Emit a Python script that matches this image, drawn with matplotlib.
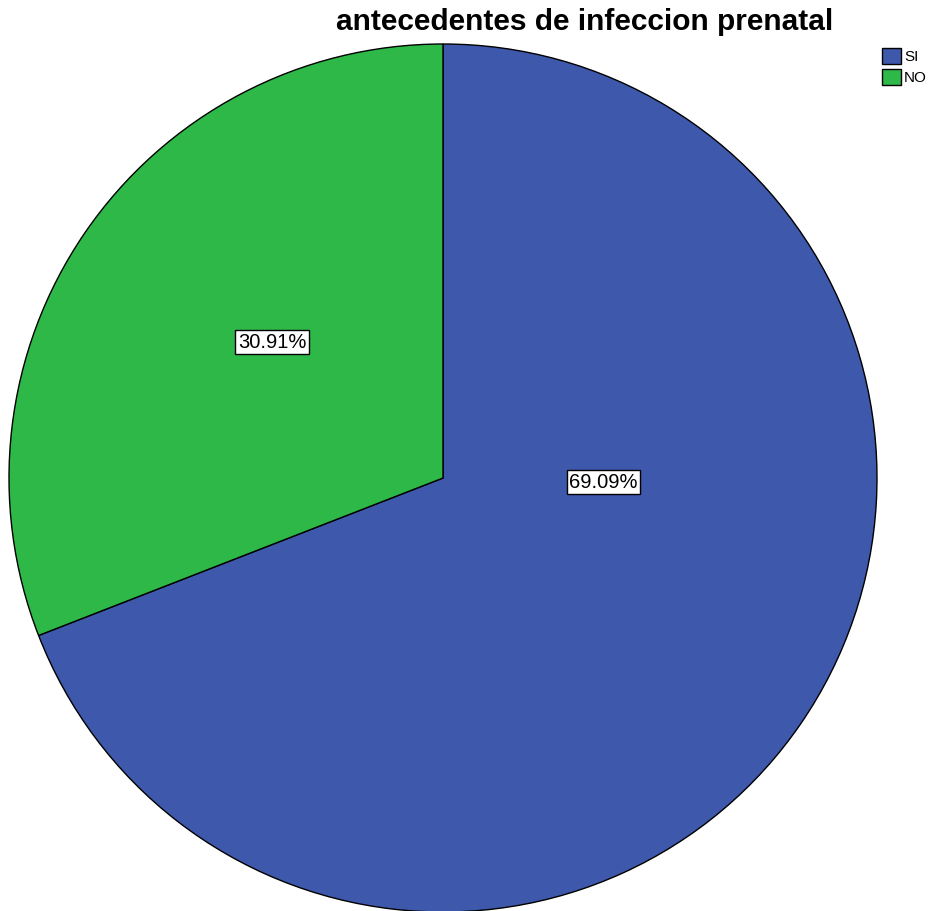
import matplotlib.pyplot as plt
import numpy as np

plt.rcParams["font.family"] = ["Liberation Sans", "DejaVu Sans"]

TITLE = "antecedentes de infeccion prenatal"
CATEGORIES = ["SI", "NO"]
PERCENTS = [69.09, 30.91]
COLORS = ["#3E58AC", "#2EB848"]

W, H = 934, 911
CX, CY, R = 443, H - 478, 434
# label spots (radius units from centre), SPSS does not use mid angles
LABEL_POS = [(0.37, -0.01), (-0.394, 0.313)]

fig = plt.figure(figsize=(W / 100, H / 100), dpi=100)
ax = fig.add_axes([0, 0, 1, 1])

wedges, _ = ax.pie(
    PERCENTS,
    colors=COLORS,
    startangle=90,
    counterclock=False,
    center=(CX, CY),
    radius=R,
    wedgeprops=dict(edgecolor="black", linewidth=1.0),
    frame=True,
)
ax.set_xlim(0, W)
ax.set_ylim(0, H)
ax.set_aspect("equal")
ax.axis("off")

for pct, (dx, dy) in zip(PERCENTS, LABEL_POS):
    ax.text(
        CX + dx * R, CY + dy * R, f"{pct:.2f}%",
        ha="center", va="center", fontsize=14.5,
        bbox=dict(boxstyle="square,pad=0.12", fc="white", ec="black", lw=1.0),
    )

fig.text(585 / W, 1 - 22 / H, TITLE, ha="center", va="center",
         fontsize=21.5, fontweight="bold")

fig.legend(
    wedges, CATEGORIES,
    loc="upper left", bbox_to_anchor=(879 / W, 1 - 45 / H),
    frameon=False, fontsize=11, handlelength=1.25, handleheight=1.25,
    handletextpad=0.2, labelspacing=0.3, borderpad=0.2, borderaxespad=0,
)

fig.savefig("out.png", dpi=100)
